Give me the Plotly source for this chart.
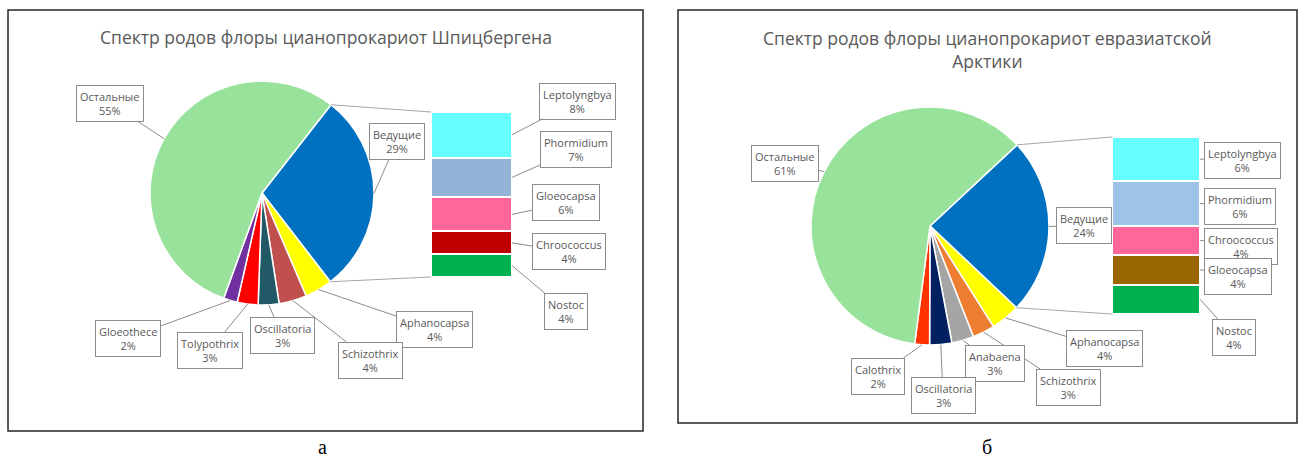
import math
import plotly.graph_objects as go

W, H = 1303, 464

# ---- data: left chart (Шпицберген)
left_title = "Спектр родов флоры цианопрокариот Шпицбергена"
left_pie_labels = ["Ведущие", "Aphanocapsa", "Schizothrix", "Oscillatoria", "Tolypothrix", "Gloeothece", "Остальные"]
left_pie_values = [29, 4, 4, 3, 3, 2, 55]
left_bar_labels = ["Leptolyngbya", "Phormidium", "Gloeocapsa", "Chroococcus", "Nostoc"]
left_bar_values = [8, 7, 6, 4, 4]

# ---- data: right chart (евразиатская Арктика)
right_title = "Спектр родов флоры цианопрокариот евразиатской<br>Арктики"
right_pie_labels = ["Ведущие", "Aphanocapsa", "Schizothrix", "Anabaena", "Oscillatoria", "Calothrix", "Остальные"]
right_pie_values = [24, 4, 3, 3, 3, 2, 61]
right_bar_labels = ["Leptolyngbya", "Phormidium", "Chroococcus", "Gloeocapsa", "Nostoc"]
right_bar_values = [6, 6, 4, 4, 4]

captions = ["а", "б"]

# ---- styles
left_pie_colors = ["#0070C0", "#FFFF00", "#C0504D", "#215967", "#FF0000", "#7030A0", "#99E29B"]
left_bar_colors = ["#66FFFF", "#95B3D7", "#FF6699", "#C00000", "#00B050"]
right_pie_colors = ["#0070C0", "#FFFF00", "#ED7D31", "#A5A5A5", "#002060", "#FF3300", "#99E29B"]
right_bar_colors = ["#66FFFF", "#9DC3E6", "#FF6699", "#996600", "#00B050"]

TXT = "#595959"
FONT = "Open Sans"

# layout geometry in pixels (left, right panel)
panels = [
    dict(frame=(8, 10, 643, 431), title_xy=(326, 37), cap_xy=(322, 447),
         center=(262, 193), r=112, rotation=38, bar=(431, 112, 512, 277),
         pie_boxes=[(397, 141), (434, 329), (370, 360), (282, 335), (210, 350), (128, 338), (110, 103)],
         bar_boxes=[(577, 101), (576, 149), (566, 203), (569, 252), (566, 311)]),
    dict(frame=(678, 10, 1297, 423), title_xy=(988, 50), cap_xy=(987, 447),
         center=(930, 226), r=119, rotation=47, bar=(1112, 137, 1200, 314),
         pie_boxes=[(1084, 226), (1104, 348), (1068, 387), (995, 363), (943, 395), (878, 376), (785, 163)],
         bar_boxes=[(1242, 160), (1240, 207), (1241, 246), (1238, 276), (1234, 337)]),
]


def fx(x):
    return x / W


def fy(y):
    return 1 - y / H


fig = go.Figure()
shapes = []
annotations = []

charts = [
    (left_title, left_pie_labels, left_pie_values, left_pie_colors, left_bar_labels, left_bar_values, left_bar_colors),
    (right_title, right_pie_labels, right_pie_values, right_pie_colors, right_bar_labels, right_bar_values, right_bar_colors),
]

for i, (title, p_lab, p_val, p_col, b_lab, b_val, b_col) in enumerate(charts):
    g = panels[i]
    cx, cy = g["center"]
    r = g["r"]
    n = "" if i == 0 else str(i + 1)

    fig.add_trace(go.Pie(
        labels=p_lab, values=p_val, sort=False, direction="clockwise",
        rotation=g["rotation"], textinfo="none", showlegend=False,
        marker=dict(colors=p_col, line=dict(color="white", width=1.5)),
        domain=dict(x=[fx(cx - r), fx(cx + r)], y=[fy(cy + r), fy(cy - r)]),
    ))

    # stacked bar of the "Ведущие" slice, bottom segment first
    for lab, v, c in reversed(list(zip(b_lab, b_val, b_col))):
        fig.add_trace(go.Bar(
            x=[0], y=[v], width=1, name=lab, showlegend=False,
            marker=dict(color=c, line=dict(color="white", width=2)),
            xaxis="x" + n, yaxis="y" + n,
        ))
    bx0, by0, bx1, by1 = g["bar"]
    fig.update_layout({
        "xaxis" + n: dict(domain=[fx(bx0), fx(bx1)], range=[-0.5, 0.5], visible=False, fixedrange=True),
        "yaxis" + n: dict(domain=[fy(by1), fy(by0)], range=[0, sum(b_val)], visible=False, fixedrange=True),
    })

    total = sum(p_val)

    def pt(a):
        a = math.radians(a)
        return cx + r * math.sin(a), cy - r * math.cos(a)

    # connector lines from the lead slice to the bar
    a0 = g["rotation"]
    a1 = a0 + 360 * p_val[0] / total
    for a, yb in ((a0, by0), (a1, by1)):
        px, py = pt(a)
        shapes.append(dict(type="line", xref="paper", yref="paper",
                           x0=fx(px), y0=fy(py), x1=fx(bx0), y1=fy(yb),
                           line=dict(color="#A6A6A6", width=1)))

    callout = dict(xref="paper", yref="paper", axref="pixel", ayref="pixel",
                   showarrow=True, arrowhead=0, arrowwidth=1, arrowcolor="#8C8C8C",
                   font=dict(family=FONT, size=11, color=TXT),
                   bordercolor="#8C8C8C", borderwidth=1, borderpad=3, bgcolor="white")

    # callouts for pie slices
    acc = a0
    for lab, v, box in zip(p_lab, p_val, g["pie_boxes"]):
        span = 360 * v / total
        tx, ty = pt(acc + span / 2)
        acc += span
        annotations.append(dict(callout, x=fx(tx), y=fy(ty), ax=box[0] - tx, ay=box[1] - ty,
                                text=f"{lab}<br>{v}%"))

    # callouts for bar segments
    bsum = sum(b_val)
    cum = 0
    for lab, v, box in zip(b_lab, b_val, g["bar_boxes"]):
        mid = by0 + (cum + v / 2) / bsum * (by1 - by0)
        cum += v
        annotations.append(dict(callout, x=fx(bx1), y=fy(mid), ax=box[0] - bx1, ay=box[1] - mid,
                                text=f"{lab}<br>{v}%"))

    # title, frame, caption
    annotations.append(dict(x=fx(g["title_xy"][0]), y=fy(g["title_xy"][1]), xref="paper", yref="paper",
                            xanchor="center", yanchor="middle",
                            text=title, showarrow=False, font=dict(family=FONT, size=17.5, color=TXT)))
    fl, ft, fr, fb = g["frame"]
    shapes.append(dict(type="rect", xref="paper", yref="paper", x0=fx(fl), y0=fy(fb), x1=fx(fr), y1=fy(ft),
                       line=dict(color="#262626", width=1.5)))
    annotations.append(dict(x=fx(g["cap_xy"][0]), y=fy(g["cap_xy"][1]), xref="paper", yref="paper",
                            xanchor="center", yanchor="middle",
                            text=captions[i], showarrow=False,
                            font=dict(family="Liberation Serif", size=20, color="black")))

fig.update_layout(
    width=W, height=H, margin=dict(l=0, r=0, t=0, b=0),
    paper_bgcolor="white", plot_bgcolor="white",
    barmode="stack", bargap=0, showlegend=False,
    shapes=shapes, annotations=annotations,
)

# no default page margin, so pixel positions line up with the window
fig.write_html("out.html", config={"displayModeBar": False},
               post_script="document.body.style.margin='0';")
